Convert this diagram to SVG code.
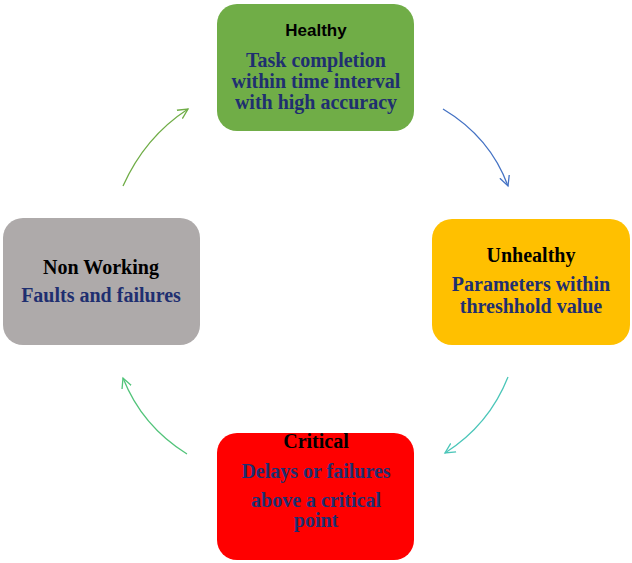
<svg xmlns="http://www.w3.org/2000/svg" width="632" height="563" viewBox="0 0 632 563">
<defs>
<style>
.box{stroke:none}
.title{font-family:"Liberation Serif",serif;font-weight:bold;font-size:20px;fill:#000;text-anchor:middle}
.titles{font-family:"Liberation Sans",sans-serif;font-weight:bold;font-size:17px;fill:#000;text-anchor:middle}
.body{font-family:"Liberation Serif",serif;font-weight:bold;font-size:20px;fill:#1F2F70;text-anchor:middle}
.arr{fill:none;stroke-width:1.3}
</style>
<marker id="mg" markerWidth="14" markerHeight="14" refX="10" refY="5" orient="auto" markerUnits="userSpaceOnUse" viewBox="0 0 14 10"><path d="M0,0 L10,5 L0,10" fill="none" stroke="#70AD47" stroke-width="1.3"/></marker>
<marker id="mb" markerWidth="14" markerHeight="14" refX="10" refY="5" orient="auto" markerUnits="userSpaceOnUse" viewBox="0 0 14 10"><path d="M0,0 L10,5 L0,10" fill="none" stroke="#4472C4" stroke-width="1.3"/></marker>
<marker id="mt" markerWidth="14" markerHeight="14" refX="10" refY="5" orient="auto" markerUnits="userSpaceOnUse" viewBox="0 0 14 10"><path d="M0,0 L10,5 L0,10" fill="none" stroke="#4BC6B9" stroke-width="1.3"/></marker>
<marker id="ml" markerWidth="14" markerHeight="14" refX="10" refY="5" orient="auto" markerUnits="userSpaceOnUse" viewBox="0 0 14 10"><path d="M0,0 L10,5 L0,10" fill="none" stroke="#52C47A" stroke-width="1.3"/></marker>
</defs>
<rect width="632" height="563" fill="#fff"/>
<g id="healthy">
<rect class="box" x="217" y="4" width="197" height="127" rx="20" fill="#70AD47"/>
<text class="titles" x="316" y="36">Healthy</text>
<text class="body" x="316" y="67">Task completion</text>
<text class="body" x="316" y="88">within time interval</text>
<text class="body" x="316" y="109">with high accuracy</text>
</g>
<g id="unhealthy">
<rect class="box" x="432" y="219" width="198" height="126" rx="20" fill="#FFC000"/>
<text class="title" x="531" y="262">Unhealthy</text>
<text class="body" x="531" y="291">Parameters within</text>
<text class="body" x="531" y="313">threshhold value</text>
</g>
<g id="nonworking">
<rect class="box" x="3" y="218" width="197" height="127" rx="20" fill="#AEAAAA"/>
<text class="title" x="101" y="274">Non Working</text>
<text class="body" x="101" y="302">Faults and failures</text>
</g>
<g id="critical">
<rect class="box" x="217" y="433" width="197" height="127" rx="20" fill="#FF0000"/>
<text class="title" x="316" y="448">Critical</text>
<text class="body" x="316" y="478">Delays or failures</text>
<text class="body" x="316" y="507">above a critical</text>
<text class="body" x="316" y="527">point</text>
</g>
<g id="connectors">
<path class="arr" d="M123,186 Q145,137 188,109" stroke="#70AD47" marker-end="url(#mg)"/>
<path class="arr" d="M443,109 Q490,137 508,186" stroke="#4472C4" marker-end="url(#mb)"/>
<path class="arr" d="M508,377 Q489,425 445,453" stroke="#4BC6B9" marker-end="url(#mt)"/>
<path class="arr" d="M187,454 Q142,426 123,378" stroke="#52C47A" marker-end="url(#ml)"/>
</g>
</svg>
